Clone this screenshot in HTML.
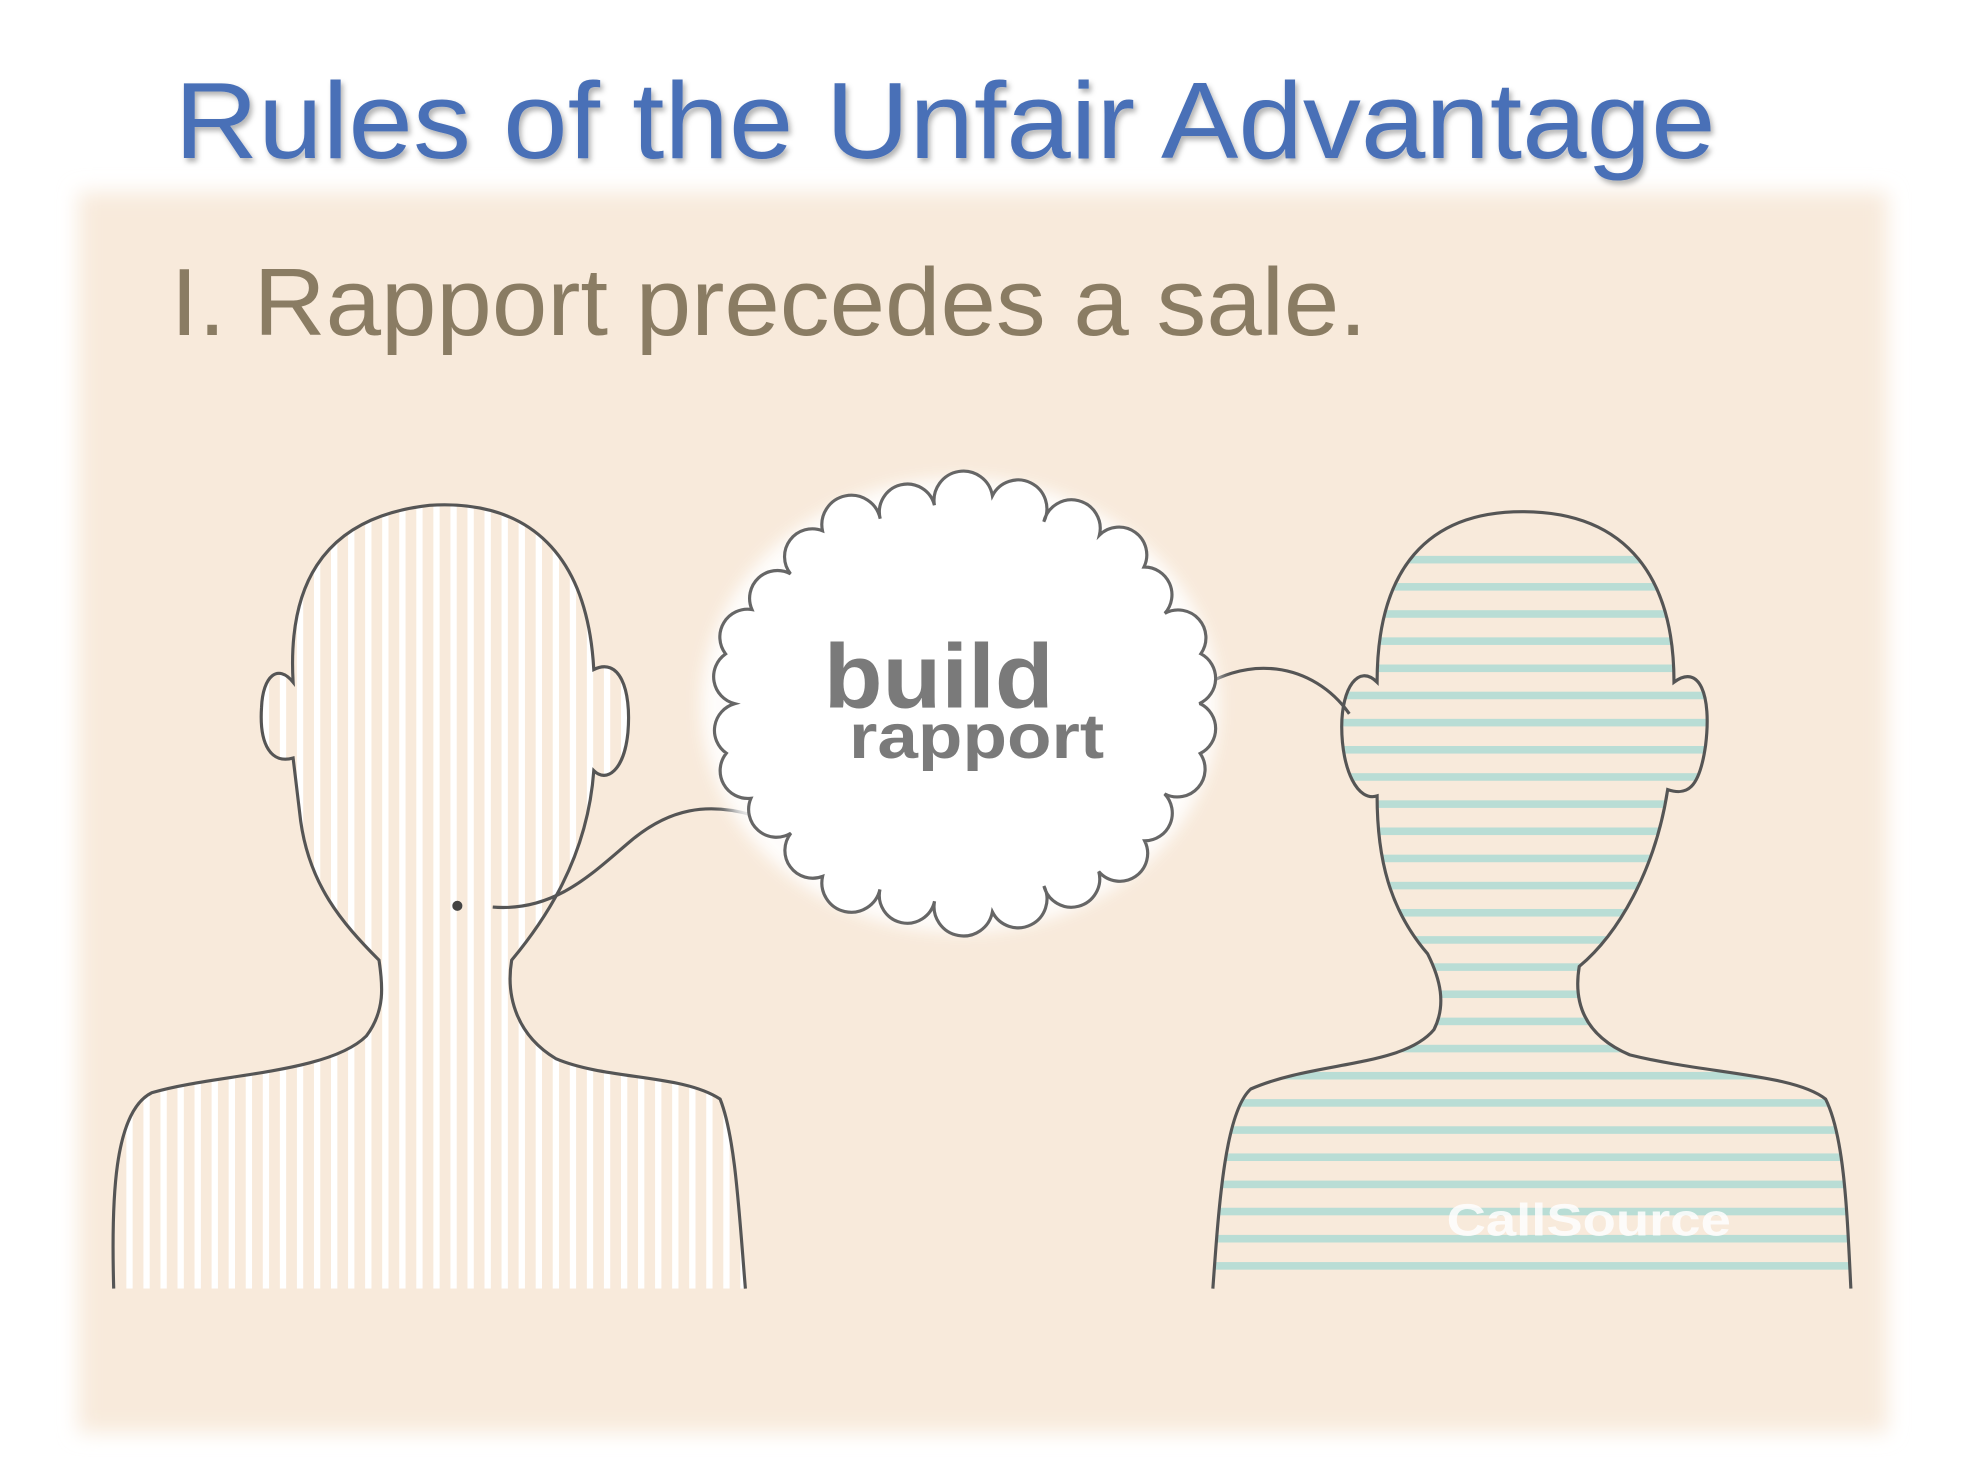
<!DOCTYPE html>
<html><head><meta charset="utf-8"><style>
html,body{margin:0;padding:0;background:#fff;}
svg{display:block;}
</style></head><body>
<svg width="1981" height="1468" viewBox="0 0 1568 1162" preserveAspectRatio="none" xmlns="http://www.w3.org/2000/svg">
<defs>
<filter id="soft" x="-5%" y="-5%" width="110%" height="110%"><feGaussianBlur stdDeviation="8"/></filter>
<filter id="glow" x="-10%" y="-10%" width="120%" height="120%"><feGaussianBlur stdDeviation="6"/></filter>
<filter id="shadow" x="-5%" y="-20%" width="110%" height="150%"><feDropShadow dx="2" dy="3" stdDeviation="2" flood-color="#000" flood-opacity="0.3"/></filter>
<clipPath id="leftClip"><path d="M90,1020 C88,950 90,880 120,865 C170,850 260,850 290,820 C305,800 303,780 300,760 C270,730 245,700 238,650 L232,600 C215,605 205,590 207,560 C208,535 220,525 232,540 C228,470 250,410 340,400 C420,395 465,440 470,530 C490,520 500,545 497,580 C494,610 480,620 470,610 C465,680 430,730 405,760 C400,790 410,820 440,838 C480,855 540,850 570,870 C582,900 585,960 590,1020 Z"/></clipPath>
<clipPath id="rightClip"><path d="M960,1020 C965,950 970,880 990,862 C1040,840 1110,845 1135,815 C1145,795 1140,775 1130,755 C1100,720 1090,680 1090,630 C1075,635 1062,610 1062,575 C1062,545 1075,525 1090,540 C1090,450 1130,405 1205,405 C1290,405 1325,460 1325,540 C1345,525 1355,550 1350,590 C1345,625 1335,630 1320,625 C1310,690 1280,740 1250,765 C1245,795 1255,820 1290,835 C1350,850 1420,850 1445,870 C1460,900 1462,960 1465,1020 Z"/></clipPath>
</defs>
<rect x="0" y="0" width="1568" height="1162" fill="#fff"/>
<rect x="62" y="152" width="1432" height="982" fill="#f8eadb" filter="url(#soft)"/>
<text x="138" y="125" font-family="Liberation Sans, sans-serif" font-size="86" fill="#4a70b7" textLength="1220" lengthAdjust="spacingAndGlyphs" filter="url(#shadow)">Rules of the Unfair Advantage</text>
<text x="135" y="265" font-family="Liberation Sans, sans-serif" font-size="76" fill="#8a7c63" textLength="947" lengthAdjust="spacingAndGlyphs">I. Rapport precedes a sale.</text>

<g>
<g id="vstripes" clip-path="url(#leftClip)"></g>
<path d="M90,1020 C88,950 90,880 120,865 C170,850 260,850 290,820 C305,800 303,780 300,760 C270,730 245,700 238,650 L232,600 C215,605 205,590 207,560 C208,535 220,525 232,540 C228,470 250,410 340,400 C420,395 465,440 470,530 C490,520 500,545 497,580 C494,610 480,620 470,610 C465,680 430,730 405,760 C400,790 410,820 440,838 C480,855 540,850 570,870 C582,900 585,960 590,1020" fill="none" stroke="#555" stroke-width="2.5"/>
<circle cx="362" cy="717" r="4" fill="#444"/>
</g>

<g>
<g id="hstripes" clip-path="url(#rightClip)"></g>
<path d="M960,1020 C965,950 970,880 990,862 C1040,840 1110,845 1135,815 C1145,795 1140,775 1130,755 C1100,720 1090,680 1090,630 C1075,635 1062,610 1062,575 C1062,545 1075,525 1090,540 C1090,450 1130,405 1205,405 C1290,405 1325,460 1325,540 C1345,525 1355,550 1350,590 C1345,625 1335,630 1320,625 C1310,690 1280,740 1250,765 C1245,795 1255,820 1290,835 C1350,850 1420,850 1445,870 C1460,900 1462,960 1465,1020" fill="none" stroke="#555" stroke-width="2.5"/>
<text x="1145" y="978" font-family="Liberation Sans, sans-serif" font-weight="bold" font-size="36" fill="#fff" opacity="0.85" textLength="225" lengthAdjust="spacingAndGlyphs">CallSource</text>
</g>

<path d="M390,718 C440,722 470,690 500,665 C530,640 560,635 595,645" fill="none" stroke="#555" stroke-width="2.5"/>
<path d="M940,552 C985,515 1040,525 1068,565" fill="none" stroke="#555" stroke-width="2.5"/>

<g>
<ellipse cx="760" cy="558" rx="205" ry="180" fill="#fff" filter="url(#glow)" opacity="0.9"/>
<path id="cloud" fill="#fff" stroke="#666" stroke-width="2.5"/>
<text x="652" y="560" font-family="Liberation Sans, sans-serif" font-weight="bold" font-size="72" fill="#7a7a7a" textLength="182" lengthAdjust="spacingAndGlyphs">build</text>
<text x="672" y="600" font-family="Liberation Sans, sans-serif" font-weight="bold" font-size="50" fill="#7a7a7a" textLength="202" lengthAdjust="spacingAndGlyphs">rapport</text>
</g>
</svg>
<script>
var ns="http://www.w3.org/2000/svg";
var vs=document.getElementById('vstripes');
for(var x=100;x<600;x+=13.5){var r=document.createElementNS(ns,'rect');r.setAttribute('x',x);r.setAttribute('y',390);r.setAttribute('width',5);r.setAttribute('height',640);r.setAttribute('fill','#fff');


vs.appendChild(r);}
var hs=document.getElementById('hstripes');
for(var y=440;y<1030;y+=21.5){var l=document.createElementNS(ns,'rect');l.setAttribute('x',950);l.setAttribute('y',y);l.setAttribute('width',520);l.setAttribute('height',6);l.setAttribute('fill','#b9ddd5');


hs.appendChild(l);}
var cx=762,cy=557,rx=188,ry=160,n=26,d='';
for(var i=0;i<=n;i++){var a=i/n*2*Math.PI;var k=1+0.04*Math.sin(i*2.3);var px=cx+rx*k*Math.cos(a),py=cy+ry*k*Math.sin(a);
if(i==0)d+='M'+px.toFixed(1)+','+py.toFixed(1);else d+=' A22,22 0 0 1 '+px.toFixed(1)+','+py.toFixed(1);}
document.getElementById('cloud').setAttribute('d',d+'Z');
</script>
</body></html>
